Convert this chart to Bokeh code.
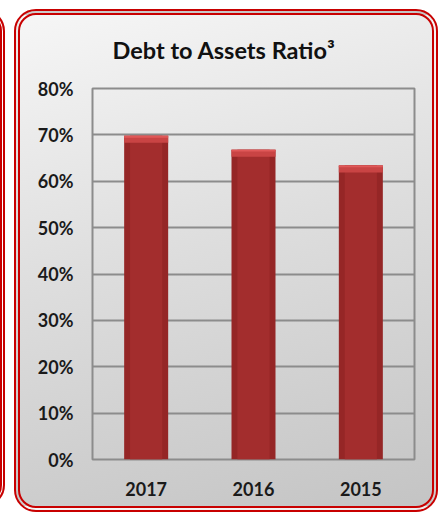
from bokeh.plotting import figure
from bokeh.models import FactorRange, Range1d, FixedTicker, ColumnDataSource, InlineStyleSheet
from bokeh.embed import file_html
from bokeh.resources import INLINE

title_text = "Debt to Assets Ratio\u00b3"
years = ["2017", "2016", "2015"]
ratios = [69.8, 66.8, 63.4]
y_ticks = [0, 10, 20, 30, 40, 50, 60, 70, 80]
y_tick_labels = ["0%", "10%", "20%", "30%", "40%", "50%", "60%", "70%", "80%"]

FONT = "Lato"

p = figure(width=440, height=512,
           x_range=FactorRange(factors=years, range_padding=0),
           y_range=Range1d(0, 80),
           output_backend="svg", toolbar_location=None, title=title_text,
           min_border_left=92, min_border_right=26,
           min_border_top=88, min_border_bottom=53)

p.background_fill_alpha = 0
p.border_fill_alpha = 0
p.stylesheets = [InlineStyleSheet(css="""
:host { isolation: isolate; }
:host::before {
  content: ""; position: absolute; left: 14px; top: 9px; width: 424px; height: 503px;
  box-sizing: border-box; border: 6px double #c80000; border-radius: 22px;
  background: linear-gradient(165deg, #f6f6f6 0%, #dedede 45%, #c4c4c4 100%);
  z-index: -1;
}
:host::after {
  content: ""; position: absolute; left: -60px; top: 9px; width: 65px; height: 498px;
  box-sizing: border-box; border: 5px double #c80000; border-radius: 22px;
  z-index: -1;
}
""")]

p.outline_line_color = "#8c8c8c"
p.outline_line_width = 2

p.title.align = "left"
p.title.offset = 20
p.title.standoff = 50
p.title.text_font = FONT
p.title.text_font_style = "bold"
p.title.text_font_size = "23.5px"
p.title.text_color = "#111111"

src = ColumnDataSource(dict(
    year=years,
    ratio=ratios,
    cap=[r - 1.5 for r in ratios],
    edge=[r - 0.4 for r in ratios],
))

p.vbar(x="year", top="ratio", bottom=0, width=0.41, source=src,
       fill_color="#952626", line_color=None)
p.vbar(x="year", top="ratio", bottom=0, width=0.30, source=src,
       fill_color="#a32d2d", line_color=None)
p.vbar(x="year", top="ratio", bottom="cap", width=0.41, source=src,
       fill_color="#c94444", line_color=None)
p.vbar(x="year", top="ratio", bottom="edge", width=0.41, source=src,
       fill_color="#e05858", line_color=None)

p.xgrid.grid_line_color = None
p.ygrid.grid_line_color = "#8c8c8c"
p.ygrid.grid_line_width = 2
p.ygrid.ticker = FixedTicker(ticks=y_ticks)

p.yaxis.ticker = FixedTicker(ticks=y_ticks)
p.yaxis.major_label_overrides = {t: l for t, l in zip(y_ticks, y_tick_labels)}

for ax in (p.xaxis[0], p.yaxis[0]):
    ax.axis_line_color = None
    ax.major_tick_line_color = None
    ax.minor_tick_line_color = None
    ax.major_tick_out = 0
    ax.major_tick_in = 0
    ax.major_label_text_font = FONT
    ax.major_label_text_font_style = "bold"
    ax.major_label_text_font_size = "18px"
    ax.major_label_text_color = "#1a1a1a"
p.yaxis.major_label_standoff = 19
p.xaxis.major_label_standoff = 22

open("out.html", "w").write(file_html(p, INLINE))
